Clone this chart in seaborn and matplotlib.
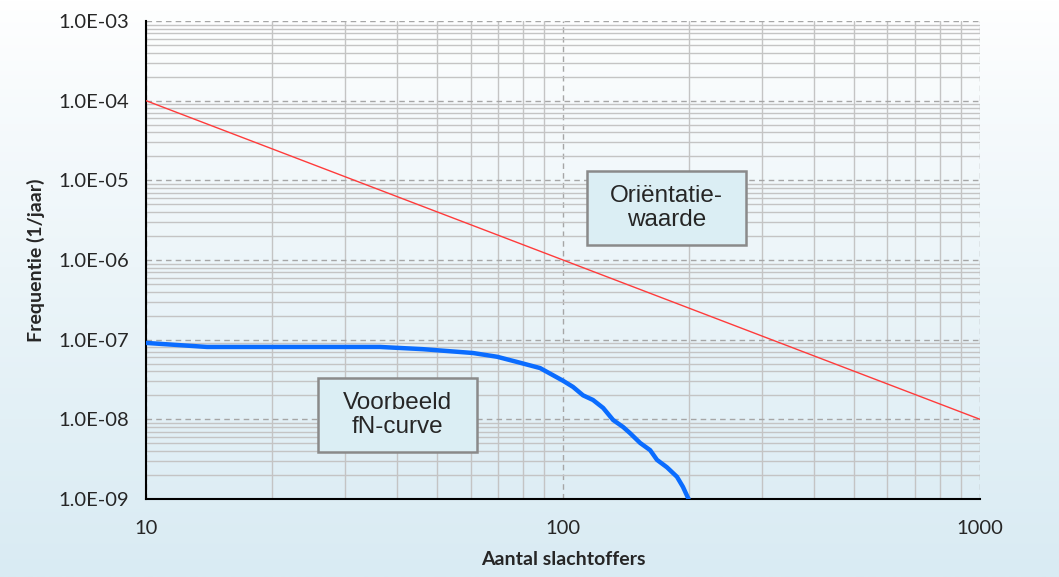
import numpy as np
import matplotlib
matplotlib.use("Agg")
import matplotlib.pyplot as plt
import seaborn as sns
from matplotlib.patches import Rectangle
from matplotlib.ticker import FuncFormatter, LogLocator, FixedLocator

# Données
fn_slachtoffers = [10, 14.0, 36.4, 46.1, 56.6, 60.8, 69.5, 77.6, 88.1, 100, 105.7,
                   111.7, 118.0, 124.8, 131.9, 139.4, 144.8, 153.1, 161.8, 168.0,
                   177.5, 187.6, 193.9, 200]
fn_frequentie = [9.1e-8, 8.1e-8, 8.1e-8, 7.6e-8, 7.0e-8, 6.8e-8, 6.1e-8, 5.25e-8,
                 4.4e-8, 3.05e-8, 2.55e-8, 2.0e-8, 1.75e-8, 1.39e-8, 9.8e-9, 8.0e-9,
                 6.7e-9, 5.05e-9, 4.1e-9, 3.1e-9, 2.5e-9, 1.9e-9, 1.42e-9, 1.0e-9]
ow_slachtoffers = [10, 1000]
ow_frequentie = [1e-4, 1e-8]

sns.set_style("white")
plt.rcParams['font.family'] = ['Lato', 'DejaVu Sans']

fig = plt.figure(figsize=(10.59, 5.77), dpi=100)

# Fond en dégradé (blanc en haut, bleu clair en bas)
grad = np.linspace(0, 1, 256).reshape(-1, 1)
top = np.array([1.0, 1.0, 1.0])
bottom = np.array([0xd9, 0xeb, 0xf3]) / 255
img = top + (bottom - top) * grad[:, :, None] ** 0.9
bg = fig.add_axes([0, 0, 1, 1], zorder=-10)
bg.imshow(img, aspect='auto', extent=[0, 1, 0, 1])
bg.set_axis_off()

ax = fig.add_axes([0.1379, 0.1352, 0.7875, 0.8284])
ax.set_facecolor('none')

sns.lineplot(x=ow_slachtoffers, y=ow_frequentie, ax=ax, color='#ff3b3b',
             linewidth=1, estimator=None, sort=False, zorder=3)
sns.lineplot(x=fn_slachtoffers, y=fn_frequentie, ax=ax, color='#0a6cff',
             linewidth=3.2, estimator=None, sort=False, zorder=4)

ax.set_xscale('log')
ax.set_yscale('log')
ax.set_xlim(10, 1000)
ax.set_ylim(1e-9, 1e-3)

ax.xaxis.set_major_locator(FixedLocator([10, 100, 1000]))
ax.xaxis.set_minor_locator(LogLocator(base=10, subs=np.arange(2, 10)))
ax.yaxis.set_major_locator(LogLocator(base=10, numticks=20))
ax.yaxis.set_minor_locator(LogLocator(base=10, subs=np.arange(2, 10), numticks=20))
ax.xaxis.set_major_formatter(FuncFormatter(lambda v, p: f"{v:.0f}"))
ax.yaxis.set_major_formatter(FuncFormatter(lambda v, p: f"{v:.1E}"))

ax.grid(True, which='major', color='#a6a6a6', linestyle=(0, (4, 3)), linewidth=1)
ax.grid(True, which='minor', color='#c4c4c4', linestyle='-', linewidth=1)
ax.set_axisbelow(True)

for s in ['top', 'right']:
    ax.spines[s].set_visible(False)
for s in ['left', 'bottom']:
    ax.spines[s].set_color('black')
    ax.spines[s].set_linewidth(1.5)

ax.tick_params(axis='both', which='major', direction='out', length=7, width=1.5,
               color='black', labelsize=14.5, pad=5)
ax.tick_params(axis='both', which='minor', length=0)
ax.tick_params(axis='x', pad=8)

ax.set_xlabel("Aantal slachtoffers", fontsize=14, fontweight='bold', labelpad=10)
ax.set_ylabel("Frequentie (1/jaar)", fontsize=14, fontweight='bold', labelpad=10)

# Cadres de texte
boxes = [((0.5288, 0.5314), "Oriëntatie-\nwaarde"),
         ((0.2062, 0.0983), "Voorbeeld\nfN-curve")]
for (x0, y0), label in boxes:
    ax.add_patch(Rectangle((x0, y0), 0.1906, 0.1548, transform=ax.transAxes,
                           facecolor='#dbeef4', edgecolor='#8a8a8a', linewidth=1.8,
                           zorder=5))
    ax.text(x0 + 0.0953, y0 + 0.0774, label, transform=ax.transAxes, ha='center',
            va='center', fontsize=17.5, family='Liberation Sans', zorder=6,
            linespacing=1.1)

fig.savefig("out.png", dpi=100)
